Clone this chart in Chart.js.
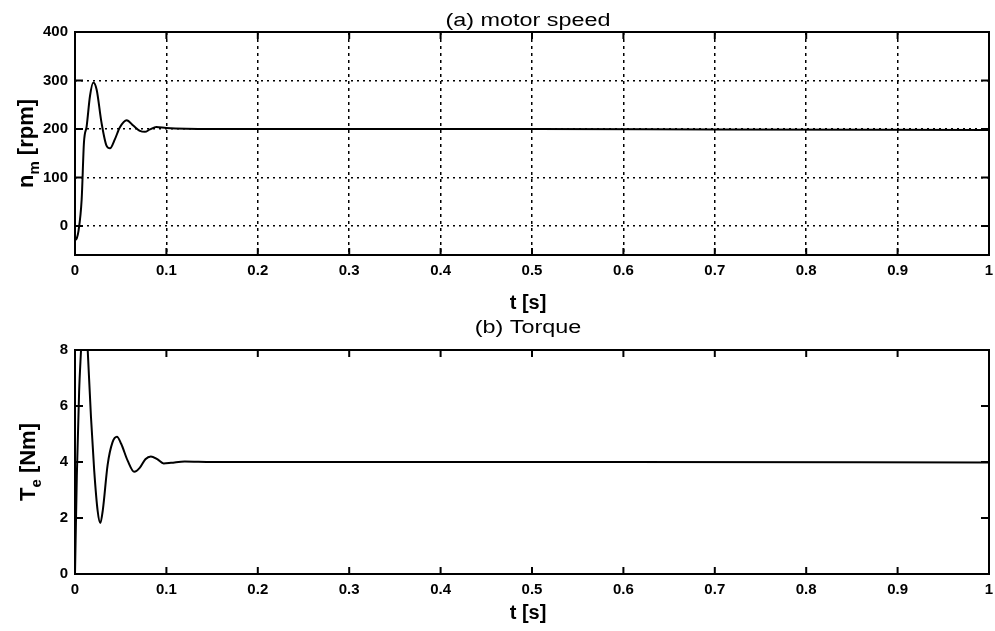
<!DOCTYPE html>
<html>
<head>
<meta charset="utf-8">
<script src="https://cdn.jsdelivr.net/npm/chart.js@4/dist/chart.umd.min.js"></script>
<style>
    body { margin: 0; background: #fff; }
    .panel { position: absolute; left: 0; width: 995px; }
    #top { top: 0; height: 315px; }
    #bottom { top: 315px; height: 316px; }
</style>
</head>
<body>
<div class="panel" id="top"><canvas id="velocidad"></canvas></div>
<div class="panel" id="bottom"><canvas id="torque"></canvas></div>
<script>
// ticks
const timeTicks = [0, 0.1, 0.2, 0.3, 0.4, 0.5, 0.6, 0.7, 0.8, 0.9, 1];
const timeTickLabels = ["0", "0.1", "0.2", "0.3", "0.4", "0.5", "0.6", "0.7", "0.8", "0.9", "1"];
const speedTicks = [0, 100, 200, 300, 400];
const torqueTicks = [0, 2, 4, 6, 8];

// (a) motor speed, rpm
const speedTime = [0, 0.002, 0.0036, 0.0073, 0.0098, 0.0128, 0.0164, 0.020, 0.0237, 0.029, 0.0346, 0.0383,
    0.0437, 0.049, 0.0565, 0.0637, 0.071, 0.0765, 0.082, 0.089, 0.1, 0.15, 0.3, 0.5, 0.7, 1];
const speed = [-30, -25, -13, 55, 172, 206, 268, 296, 281, 213, 165, 160,
    179, 203, 218, 207, 196, 194, 199, 204, 202, 200, 200, 200, 199, 198];

// (b) torque, Nm
const torqueTime = [0, 0.002, 0.0045, 0.0066, 0.009, 0.0115, 0.0139, 0.0175, 0.021, 0.0248, 0.0277, 0.0305,
    0.0357, 0.041, 0.0459, 0.0505, 0.0576, 0.0648, 0.071, 0.077, 0.083, 0.09, 0.097, 0.105, 0.12, 0.15, 0.3, 0.6, 1];
const torque = [0, 3.5, 6.5, 8, 9.6, 9.5, 8, 5.6, 3.7, 2.25, 1.82, 2.3,
    3.9, 4.7, 4.9, 4.65, 4.05, 3.65, 3.8, 4.1, 4.2, 4.1, 3.95, 3.97, 4.02, 4.0, 4.0, 4.0, 3.98];

const fuente = '"Liberation Sans", Arial, sans-serif';

const marco = {
    id: "marco",
    afterDraw(chart, args, opts) {
        const ctx = chart.ctx;
        const a = chart.chartArea;
        const xs = chart.scales.x;
        const ys = chart.scales.y;
        ctx.save();
        ctx.strokeStyle = "#000";
        ctx.lineWidth = 2;
        ctx.strokeRect(a.left, a.top, a.right - a.left, a.bottom - a.top);
        // marcas hacia adentro, estilo matlab
        ctx.beginPath();
        xs.ticks.forEach((t) => {
            const px = xs.getPixelForValue(t.value);
            ctx.moveTo(px, a.bottom);
            ctx.lineTo(px, a.bottom - 7);
            ctx.moveTo(px, a.top);
            ctx.lineTo(px, a.top + 7);
        });
        ys.ticks.forEach((t) => {
            const py = ys.getPixelForValue(t.value);
            ctx.moveTo(a.left, py);
            ctx.lineTo(a.left + 8, py);
            ctx.moveTo(a.right, py);
            ctx.lineTo(a.right - 8, py);
        });
        ctx.stroke();

        ctx.fillStyle = "#000";
        ctx.textAlign = "center";
        ctx.textBaseline = "alphabetic";
        ctx.font = "18px " + fuente;
        ctx.save();
        ctx.translate(opts.centerX, opts.titleY);
        ctx.scale(1.3, 1);
        ctx.fillText(opts.title, 0, 0);
        ctx.restore();

        ctx.font = "bold 20px " + fuente;
        ctx.fillText(opts.xLabel, opts.centerX, opts.xLabelY);

        // etiqueta y con subíndice
        const big = "bold 22px " + fuente;
        const small = "bold 15px " + fuente;
        ctx.font = big;
        const w1 = ctx.measureText(opts.yMain).width;
        const w3 = ctx.measureText(opts.yRest).width;
        ctx.font = small;
        const w2 = ctx.measureText(opts.ySub).width;
        const total = w1 + w2 + w3;
        ctx.translate(opts.yLabelX, (a.top + a.bottom) / 2);
        ctx.rotate(-Math.PI / 2);
        ctx.textAlign = "left";
        let x0 = -total / 2;
        ctx.font = big;
        ctx.fillText(opts.yMain, x0, 0);
        ctx.font = small;
        ctx.fillText(opts.ySub, x0 + w1, 6);
        ctx.font = big;
        ctx.fillText(opts.yRest, x0 + w1 + w2, 0);
        ctx.restore();
    },
};

function puntos(xs, ys) {
    return xs.map((x, i) => ({ x: x, y: ys[i] }));
}

function opciones(yMin, yMax, yTicks, conGrilla, xAxisHeight, deco) {
    const tickFont = { family: fuente, size: 15, weight: "bold" };
    return {
        animation: false,
        responsive: true,
        maintainAspectRatio: false,
        layout: { padding: { top: deco.areaTop, right: 6, left: 0, bottom: 0 } },
        elements: { point: { radius: 0 } },
        scales: {
            x: {
                type: "linear",
                min: 0,
                max: 1,
                afterBuildTicks: (s) => { s.ticks = timeTicks.map((v) => ({ value: v })); },
                afterFit: (s) => {
                    s.height = xAxisHeight;
                    s.paddingLeft = 0;
                    s.paddingRight = 0;
                },
                grid: { display: conGrilla, drawTicks: false, color: "#000", lineWidth: 1.5 },
                border: { display: false, dash: [3, 4] },
                ticks: {
                    font: tickFont,
                    color: "#000",
                    padding: 7,
                    maxRotation: 0,
                    autoSkip: false,
                    callback: (value, index) => timeTickLabels[index],
                },
            },
            y: {
                type: "linear",
                min: yMin,
                max: yMax,
                afterBuildTicks: (s) => { s.ticks = yTicks.map((v) => ({ value: v })); },
                afterFit: (s) => { s.width = 75; },
                grid: { display: conGrilla, drawTicks: false, color: "#000", lineWidth: 1.5 },
                border: { display: false, dash: [2, 4] },
                ticks: {
                    font: tickFont,
                    color: "#000",
                    padding: 7,
                    autoSkip: false,
                    callback: (value) => String(value),
                },
            },
        },
        plugins: {
            legend: { display: false },
            tooltip: { enabled: false },
            marco: deco,
        },
    };
}

new Chart(document.getElementById("velocidad"), {
    type: "line",
    data: {
        datasets: [
            {
                label: "motor speed",
                data: puntos(speedTime, speed),
                borderColor: "#000",
                borderWidth: 2,
                cubicInterpolationMode: "monotone",
                fill: false,
            },
        ],
    },
    options: opciones(-60, 400, speedTicks, true, 60, {
        areaTop: 32,
        centerX: 528,
        title: "(a) motor speed",
        titleY: 26,
        xLabel: "t [s]",
        xLabelY: 309,
        yLabelX: 33,
        yMain: "n",
        ySub: "m",
        yRest: " [rpm]",
    }),
    plugins: [marco],
});

new Chart(document.getElementById("torque"), {
    type: "line",
    data: {
        datasets: [
            {
                label: "Torque",
                data: puntos(torqueTime, torque),
                borderColor: "#000",
                borderWidth: 2,
                cubicInterpolationMode: "monotone",
                fill: false,
            },
        ],
    },
    options: opciones(0, 8, torqueTicks, false, 57, {
        areaTop: 35,
        centerX: 528,
        title: "(b) Torque",
        titleY: 18,
        xLabel: "t [s]",
        xLabelY: 304,
        yLabelX: 35,
        yMain: "T",
        ySub: "e",
        yRest: " [Nm]",
    }),
    plugins: [marco],
});
</script>
</body>
</html>
